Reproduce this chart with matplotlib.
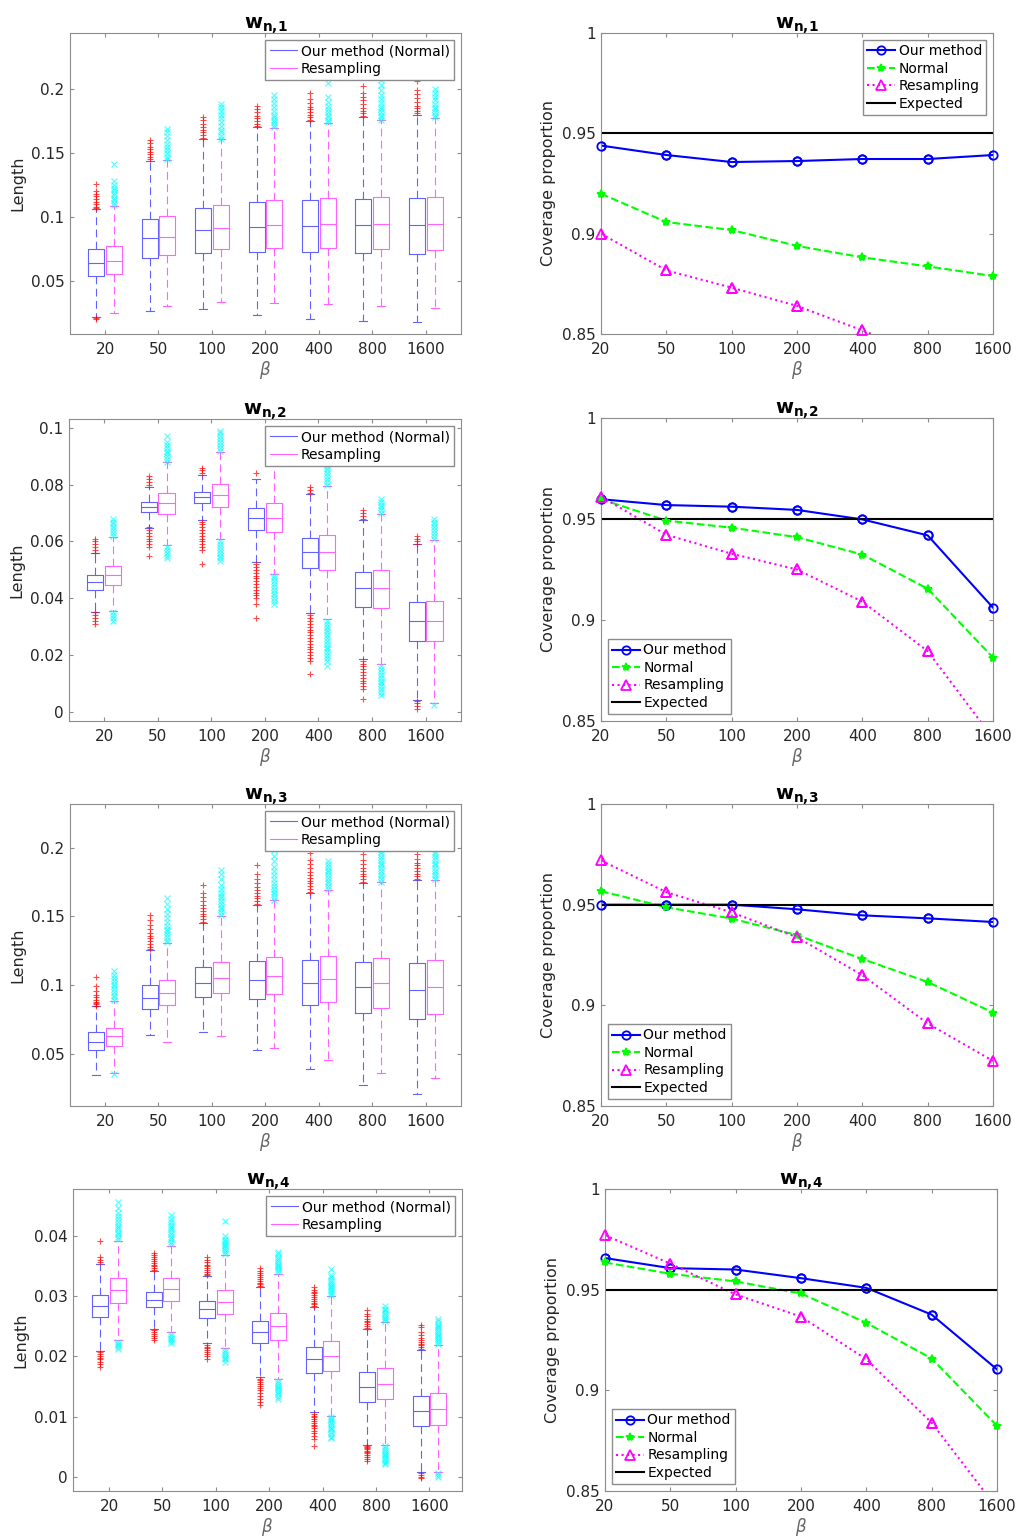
import matplotlib.pyplot as plt
from matplotlib.ticker import FuncFormatter
from matplotlib.lines import Line2D

# x categories
betas = ['20', '50', '100', '200', '400', '800', '1600']

# ---- box plot summaries (interval length) ----
# w_{n,1}
w1_ours_med = [0.0641, 0.0836, 0.0901, 0.0922, 0.0932, 0.0938, 0.0938]
w1_ours_q1 = [0.0537, 0.0680, 0.0719, 0.0727, 0.0727, 0.0719, 0.0711]
w1_ours_q3 = [0.0750, 0.0984, 0.1070, 0.1117, 0.1133, 0.1140, 0.1148]
w1_ours_lo = [0.0220, 0.0267, 0.0282, 0.0238, 0.0204, 0.0189, 0.0181]
w1_ours_hi = [0.1065, 0.1437, 0.1608, 0.1702, 0.1749, 0.1780, 0.1796]
w1_ours_out = [
    [0.107, 0.108, 0.110, 0.112, 0.114, 0.116, 0.118, 0.120, 0.126, 0.021, 0.020],
    [0.145, 0.147, 0.149, 0.151, 0.153, 0.155, 0.158, 0.160],
    [0.162, 0.164, 0.166, 0.168, 0.170, 0.173, 0.176, 0.178],
    [0.171, 0.173, 0.175, 0.177, 0.179, 0.182, 0.184, 0.187],
    [0.176, 0.178, 0.180, 0.182, 0.184, 0.186, 0.189, 0.192, 0.197],
    [0.179, 0.181, 0.183, 0.185, 0.188, 0.191, 0.194, 0.197, 0.202],
    [0.181, 0.183, 0.185, 0.187, 0.190, 0.193, 0.196, 0.199, 0.206]]
w1_res_med = [0.0657, 0.0844, 0.0914, 0.0938, 0.0945, 0.0945, 0.0945]
w1_res_q1 = [0.0558, 0.0701, 0.0750, 0.0758, 0.0758, 0.0750, 0.0743]
w1_res_q3 = [0.0771, 0.1005, 0.1094, 0.1133, 0.1148, 0.1156, 0.1156]
w1_res_lo = [0.0251, 0.0306, 0.0334, 0.0329, 0.0321, 0.0303, 0.0290]
w1_res_hi = [0.1083, 0.1445, 0.1608, 0.1692, 0.1733, 0.1759, 0.1772]
w1_res_out = [
    [0.109, 0.111, 0.113, 0.115, 0.117, 0.119, 0.121, 0.123, 0.125, 0.128, 0.141],
    [0.145, 0.147, 0.150, 0.152, 0.155, 0.157, 0.160, 0.163, 0.166, 0.169],
    [0.161, 0.163, 0.166, 0.168, 0.171, 0.174, 0.177, 0.180, 0.183, 0.186, 0.188],
    [0.170, 0.172, 0.174, 0.176, 0.178, 0.180, 0.183, 0.186, 0.189, 0.192, 0.195],
    [0.174, 0.176, 0.178, 0.180, 0.182, 0.184, 0.187, 0.190, 0.194, 0.205],
    [0.176, 0.178, 0.180, 0.182, 0.184, 0.186, 0.189, 0.192, 0.195, 0.199, 0.203, 0.207],
    [0.178, 0.180, 0.182, 0.184, 0.186, 0.188, 0.191, 0.194, 0.197, 0.200]]

# w_{n,2}
w2_ours_med = [0.0457, 0.0722, 0.0756, 0.0682, 0.0562, 0.0435, 0.0320]
w2_ours_q1 = [0.0428, 0.0703, 0.0735, 0.0642, 0.0505, 0.0368, 0.0248]
w2_ours_q3 = [0.0481, 0.0739, 0.0774, 0.0717, 0.0612, 0.0492, 0.0386]
w2_ours_lo = [0.0353, 0.0649, 0.0674, 0.0529, 0.0347, 0.0186, 0.0041]
w2_ours_hi = [0.0559, 0.0791, 0.0835, 0.0821, 0.0767, 0.0674, 0.0590]
w2_ours_out = [
    [0.056, 0.057, 0.058, 0.059, 0.060, 0.061, 0.035, 0.034, 0.033, 0.032, 0.031],
    [0.080, 0.081, 0.082, 0.083, 0.065, 0.064, 0.063, 0.062, 0.061, 0.060, 0.059, 0.058, 0.055],
    [0.084, 0.085, 0.086, 0.067, 0.066, 0.065, 0.064, 0.063, 0.062, 0.061, 0.060, 0.059,
     0.058, 0.057, 0.052],
    [0.084, 0.052, 0.051, 0.050, 0.049, 0.048, 0.047, 0.046, 0.045, 0.044, 0.043, 0.042,
     0.041, 0.040, 0.038, 0.033],
    [0.077, 0.078, 0.079, 0.034, 0.033, 0.032, 0.031, 0.030, 0.029, 0.028, 0.027, 0.026,
     0.025, 0.024, 0.023, 0.022, 0.021, 0.020, 0.019, 0.018, 0.0135],
    [0.068, 0.069, 0.070, 0.071, 0.018, 0.017, 0.016, 0.015, 0.014, 0.013, 0.012, 0.011,
     0.010, 0.009, 0.008, 0.0045],
    [0.059, 0.060, 0.061, 0.062, 0.004, 0.003, 0.002, 0.001]]
w2_res_med = [0.0482, 0.0734, 0.0762, 0.0684, 0.0562, 0.0435, 0.0320]
w2_res_q1 = [0.0448, 0.0697, 0.0723, 0.0632, 0.0501, 0.0365, 0.0248]
w2_res_q3 = [0.0514, 0.0770, 0.0801, 0.0734, 0.0621, 0.0499, 0.0389]
w2_res_lo = [0.0355, 0.0589, 0.0610, 0.0486, 0.0326, 0.0167, 0.0032]
w2_res_hi = [0.0614, 0.0878, 0.0914, 0.0885, 0.0794, 0.0697, 0.0606]
w2_res_out = [
    [0.062, 0.063, 0.064, 0.065, 0.066, 0.067, 0.068, 0.035, 0.034, 0.033, 0.032],
    [0.088, 0.089, 0.090, 0.091, 0.092, 0.093, 0.094, 0.095, 0.097, 0.058, 0.057, 0.056,
     0.055, 0.054],
    [0.092, 0.093, 0.094, 0.095, 0.096, 0.097, 0.098, 0.099, 0.060, 0.059, 0.058, 0.057,
     0.056, 0.055, 0.054, 0.053],
    [0.090, 0.092, 0.094, 0.096, 0.048, 0.047, 0.046, 0.045, 0.044, 0.043, 0.042, 0.041,
     0.040, 0.039, 0.038],
    [0.080, 0.081, 0.082, 0.083, 0.084, 0.085, 0.086, 0.087, 0.032, 0.031, 0.030, 0.029,
     0.028, 0.027, 0.026, 0.025, 0.024, 0.023, 0.022, 0.021, 0.020, 0.019, 0.018, 0.016],
    [0.070, 0.071, 0.072, 0.073, 0.074, 0.075, 0.016, 0.015, 0.014, 0.013, 0.012, 0.011,
     0.010, 0.009, 0.008, 0.007, 0.006],
    [0.061, 0.062, 0.063, 0.064, 0.065, 0.066, 0.067, 0.068, 0.0025]]

# w_{n,3}
w3_ours_med = [0.0589, 0.0905, 0.1012, 0.1034, 0.1012, 0.0983, 0.0961]
w3_ours_q1 = [0.0529, 0.0823, 0.0910, 0.0900, 0.0852, 0.0793, 0.0755]
w3_ours_q3 = [0.0655, 0.0998, 0.1129, 0.1173, 0.1180, 0.1170, 0.1163]
w3_ours_lo = [0.0349, 0.0636, 0.0657, 0.0526, 0.0388, 0.0276, 0.0210]
w3_ours_hi = [0.0847, 0.1253, 0.1454, 0.1583, 0.1671, 0.1739, 0.1765]
w3_ours_out = [
    [0.085, 0.086, 0.087, 0.088, 0.089, 0.091, 0.093, 0.096, 0.099, 0.106],
    [0.126, 0.128, 0.130, 0.132, 0.134, 0.136, 0.138, 0.141, 0.144, 0.147, 0.151],
    [0.146, 0.148, 0.150, 0.152, 0.154, 0.156, 0.158, 0.161, 0.164, 0.167, 0.173],
    [0.159, 0.161, 0.163, 0.165, 0.167, 0.169, 0.171, 0.174, 0.177, 0.181, 0.187],
    [0.168, 0.170, 0.172, 0.174, 0.176, 0.178, 0.180, 0.182, 0.185, 0.188, 0.191, 0.196],
    [0.175, 0.177, 0.179, 0.181, 0.183, 0.185, 0.188, 0.191, 0.195],
    [0.177, 0.179, 0.181, 0.183, 0.185, 0.187, 0.189, 0.192, 0.195]]
w3_res_med = [0.0626, 0.0939, 0.1051, 0.1063, 0.1044, 0.1012, 0.0983]
w3_res_q1 = [0.0560, 0.0852, 0.0939, 0.0932, 0.0878, 0.0830, 0.0789]
w3_res_q3 = [0.0691, 0.1034, 0.1165, 0.1204, 0.1209, 0.1194, 0.1180]
w3_res_lo = [0.0361, 0.0589, 0.0626, 0.0543, 0.0458, 0.0363, 0.0324]
w3_res_hi = [0.0886, 0.1304, 0.1505, 0.1615, 0.1695, 0.1748, 0.1765]
w3_res_out = [
    [0.089, 0.091, 0.093, 0.095, 0.097, 0.099, 0.101, 0.103, 0.105, 0.107, 0.110, 0.035],
    [0.131, 0.133, 0.135, 0.137, 0.139, 0.141, 0.143, 0.146, 0.149, 0.152, 0.155, 0.159, 0.163],
    [0.151, 0.153, 0.155, 0.157, 0.159, 0.161, 0.163, 0.165, 0.167, 0.170, 0.173, 0.177,
     0.181, 0.184],
    [0.162, 0.164, 0.166, 0.168, 0.170, 0.172, 0.174, 0.177, 0.180, 0.183, 0.186, 0.190,
     0.194, 0.198],
    [0.170, 0.172, 0.174, 0.176, 0.178, 0.180, 0.182, 0.184, 0.186, 0.188, 0.190],
    [0.175, 0.177, 0.179, 0.181, 0.183, 0.185, 0.187, 0.189, 0.191, 0.193, 0.195, 0.197, 0.199],
    [0.177, 0.179, 0.181, 0.183, 0.185, 0.187, 0.189, 0.191, 0.193, 0.195, 0.197]]

# w_{n,4}
w4_ours_med = [0.0283, 0.0293, 0.0278, 0.0241, 0.0195, 0.0150, 0.0109]
w4_ours_q1 = [0.0265, 0.0281, 0.0263, 0.0222, 0.0172, 0.0125, 0.0084]
w4_ours_q3 = [0.0301, 0.0306, 0.0291, 0.0259, 0.0216, 0.0174, 0.0135]
w4_ours_lo = [0.0209, 0.0245, 0.0222, 0.0166, 0.0107, 0.0053, 0.0008]
w4_ours_hi = [0.0353, 0.0341, 0.0333, 0.0314, 0.0281, 0.0245, 0.0211]
w4_ours_out = [
    [0.0356, 0.0360, 0.0364, 0.0391, 0.0207, 0.0204, 0.0201, 0.0198, 0.0195, 0.0191,
     0.0187, 0.0182],
    [0.0343, 0.0346, 0.0349, 0.0352, 0.0355, 0.0358, 0.0361, 0.0364, 0.0367, 0.0371,
     0.0243, 0.0240, 0.0237, 0.0234, 0.0231, 0.0227],
    [0.0334, 0.0337, 0.0340, 0.0343, 0.0346, 0.0349, 0.0352, 0.0356, 0.0360, 0.0364,
     0.0219, 0.0216, 0.0213, 0.0210, 0.0207, 0.0204, 0.0200, 0.0196],
    [0.0316, 0.0319, 0.0322, 0.0325, 0.0328, 0.0331, 0.0334, 0.0338, 0.0342, 0.0347,
     0.0163, 0.0160, 0.0157, 0.0154, 0.0151, 0.0148, 0.0144, 0.0140, 0.0135, 0.0130,
     0.0125, 0.0119],
    [0.0283, 0.0286, 0.0289, 0.0292, 0.0295, 0.0298, 0.0301, 0.0304, 0.0307, 0.0310,
     0.0314, 0.0105, 0.0102, 0.0099, 0.0096, 0.0093, 0.0090, 0.0087, 0.0084, 0.0081,
     0.0077, 0.0073, 0.0068, 0.0063, 0.0051],
    [0.0247, 0.0250, 0.0253, 0.0256, 0.0259, 0.0262, 0.0266, 0.0270, 0.0276, 0.0052,
     0.0050, 0.0048, 0.0046, 0.0044, 0.0042, 0.0040, 0.0037, 0.0034, 0.0030, 0.0027],
    [0.0212, 0.0215, 0.0218, 0.0221, 0.0224, 0.0227, 0.0231, 0.0236, 0.0241, 0.0248,
     0.0252, 0.0006, 0.0003, 0.0000, -0.0002]]
w4_res_med = [0.0309, 0.0311, 0.0290, 0.0250, 0.0201, 0.0154, 0.0113]
w4_res_q1 = [0.0289, 0.0292, 0.0270, 0.0227, 0.0176, 0.0129, 0.0087]
w4_res_q3 = [0.0329, 0.0329, 0.0309, 0.0271, 0.0226, 0.0180, 0.0140]
w4_res_lo = [0.0227, 0.0240, 0.0213, 0.0162, 0.0102, 0.0053, 0.0008]
w4_res_hi = [0.0391, 0.0383, 0.0367, 0.0337, 0.0300, 0.0256, 0.0219]
w4_res_out = [
    [0.0394, 0.0398, 0.0402, 0.0406, 0.0410, 0.0414, 0.0418, 0.0422, 0.0427, 0.0432,
     0.0438, 0.0445, 0.0456, 0.0224, 0.0221, 0.0218, 0.0215, 0.0212],
    [0.0386, 0.0390, 0.0394, 0.0398, 0.0402, 0.0406, 0.0410, 0.0414, 0.0418, 0.0423,
     0.0428, 0.0434, 0.0237, 0.0234, 0.0231, 0.0228, 0.0225, 0.0222],
    [0.0370, 0.0373, 0.0376, 0.0379, 0.0382, 0.0385, 0.0388, 0.0391, 0.0395, 0.0400,
     0.0424, 0.0210, 0.0207, 0.0204, 0.0201, 0.0198, 0.0195, 0.0191],
    [0.0340, 0.0343, 0.0346, 0.0349, 0.0352, 0.0355, 0.0358, 0.0361, 0.0365, 0.0369,
     0.0373, 0.0159, 0.0156, 0.0153, 0.0150, 0.0147, 0.0144, 0.0141, 0.0137, 0.0133,
     0.0129],
    [0.0302, 0.0305, 0.0308, 0.0311, 0.0314, 0.0317, 0.0320, 0.0323, 0.0327, 0.0331,
     0.0335, 0.0344, 0.0100, 0.0097, 0.0094, 0.0091, 0.0088, 0.0085, 0.0082, 0.0079,
     0.0075, 0.0071, 0.0067, 0.0064],
    [0.0258, 0.0261, 0.0264, 0.0267, 0.0270, 0.0273, 0.0276, 0.0279, 0.0283, 0.0051,
     0.0048, 0.0045, 0.0042, 0.0039, 0.0036, 0.0033, 0.0030, 0.0027, 0.0024, 0.0021],
    [0.0221, 0.0224, 0.0227, 0.0230, 0.0233, 0.0236, 0.0239, 0.0242, 0.0245, 0.0248,
     0.0251, 0.0254, 0.0258, 0.0261, 0.0006, 0.0003, 0.0001]]

# ---- coverage proportions ----
cov1_ours = [0.9439, 0.9392, 0.9357, 0.9362, 0.9372, 0.9372, 0.9392]
cov1_normal = [0.9199, 0.9058, 0.9018, 0.8939, 0.8882, 0.8837, 0.8789]
cov1_resamp = [0.9000, 0.8817, 0.8731, 0.8640, 0.8518, 0.8390, 0.8260]
cov2_ours = [0.9598, 0.9569, 0.9561, 0.9545, 0.9498, 0.9419, 0.9061]
cov2_normal = [0.9598, 0.9492, 0.9457, 0.9410, 0.9324, 0.9155, 0.8814]
cov2_resamp = [0.9611, 0.9422, 0.9328, 0.9250, 0.9091, 0.8846, 0.8415]
cov3_ours = [0.9500, 0.9500, 0.9500, 0.9477, 0.9447, 0.9432, 0.9414]
cov3_normal = [0.9567, 0.9487, 0.9431, 0.9349, 0.9230, 0.9116, 0.8964]
cov3_resamp = [0.9720, 0.9562, 0.9462, 0.9338, 0.9150, 0.8910, 0.8724]
cov4_ours = [0.9657, 0.9607, 0.9600, 0.9557, 0.9509, 0.9376, 0.9104]
cov4_normal = [0.9635, 0.9579, 0.9541, 0.9481, 0.9335, 0.9158, 0.8824]
cov4_resamp = [0.9771, 0.9629, 0.9476, 0.9366, 0.9154, 0.8839, 0.8415]
expected = 0.95

# ---- styling ----
W, H = 1019, 1539
BOX_BLUE = '#6262ff'
BOX_MAG = '#ff62ff'
FRAME = '#8c8c8c'
TXT = '#262626'
fmt = FuncFormatter(lambda v, p: '%g' % v)

fig = plt.figure(figsize=(W / 100, H / 100), dpi=100)


def add_ax(x0, y0, x1, y1):
    return fig.add_axes([x0 / W, 1 - y1 / H, (x1 - x0) / W, (y1 - y0) / H])


def style(ax, title):
    for s in ax.spines.values():
        s.set_color(FRAME)
        s.set_linewidth(0.8)
    ax.tick_params(direction='in', top=True, right=True, length=3, width=0.8,
                   color=FRAME, labelcolor=TXT, labelsize=11)
    ax.tick_params(axis='x', pad=6)
    ax.tick_params(axis='y', pad=4)
    ax.yaxis.set_major_formatter(fmt)
    ax.set_title(title, fontsize=14, color='black', pad=3)
    ax.set_xlabel(r'$\beta$', fontsize=12, color='#666666', labelpad=1)


def stats(med, q1, q3, lo, hi, out):
    return [dict(med=m, q1=a, q3=b, whislo=l, whishi=h, fliers=f)
            for m, a, b, l, h, f in zip(med, q1, q3, lo, hi, out)]


def boxes(ax, st, offset, color, sym, fcolor):
    pos = [i + 1 + offset for i in range(len(st))]
    ax.bxp(st, positions=pos, widths=0.3, capwidths=0.15,
           boxprops=dict(color=color, lw=0.8),
           whiskerprops=dict(color=color, lw=0.8, linestyle=(0, (7, 4))),
           capprops=dict(color=color, lw=0.8),
           medianprops=dict(color=color, lw=0.8),
           flierprops=dict(marker=sym, markeredgecolor=fcolor, markersize=5,
                           mew=0.8, linestyle='none', alpha=0.7))


def box_panel(rect, xlim, ours, res, ylim, yticks, title):
    ax = add_ax(*rect)
    boxes(ax, ours, -0.165, BOX_BLUE, '+', 'red')
    boxes(ax, res, 0.165, BOX_MAG, 'x', 'cyan')
    ax.set_xlim(*xlim)
    ax.set_ylim(*ylim)
    ax.set_yticks(yticks)
    ax.set_xticks(range(1, 8))
    ax.set_xticklabels(betas)
    style(ax, title)
    ax.set_ylabel('Length', fontsize=11.5, color=TXT)
    handles = [Line2D([], [], color=BOX_BLUE, lw=0.8), Line2D([], [], color=BOX_MAG, lw=0.8)]
    ax.legend(handles, ['Our method (Normal)', 'Resampling'], loc='upper right',
              fontsize=10, frameon=True, fancybox=False, framealpha=1,
              edgecolor=FRAME, borderpad=0.3, labelspacing=0.25,
              handlelength=2.0, handletextpad=0.25, borderaxespad=0.5)


def cov_panel(rect, ours, normal, resamp, title, loc):
    ax = add_ax(*rect)
    x = list(range(1, 8))
    specs = [(ours, 'o', '-', 'blue', 'none', 6, 'Our method'),
             (normal, '*', '--', '#00ff00', '#00ff00', 6, 'Normal'),
             (resamp, '^', ':', 'magenta', 'none', 6.5, 'Resampling')]
    for vals, mk, ls, c, mfc, ms, lab in specs:
        ax.plot(x, vals, marker=mk, linestyle=ls, color=c, mfc=mfc, ms=ms,
                mew=1.3, lw=1.5, label=lab)
        keep = [i for i, v in enumerate(vals) if v >= 0.85]
        ax.plot([x[i] for i in keep], [vals[i] for i in keep], marker=mk,
                linestyle='none', color=c, mfc=mfc, ms=ms, mew=1.3, clip_on=False,
                zorder=4)
    ax.axhline(expected, color='black', lw=1.5, label='Expected')
    ax.set_xlim(1, 7)
    ax.set_ylim(0.85, 1)
    ax.set_yticks([0.85, 0.9, 0.95, 1])
    ax.set_xticks(x)
    ax.set_xticklabels(betas)
    style(ax, title)
    ax.set_ylabel('Coverage proportion', fontsize=11.5, color=TXT)
    ax.legend(loc=loc, fontsize=10, frameon=True, fancybox=False, framealpha=1,
              edgecolor=FRAME, borderpad=0.3, labelspacing=0.25,
              handlelength=2.0, handletextpad=0.25, borderaxespad=0.5)


titles = [r'$\mathbf{w}_{\mathbf{n{,}%d}}$' % k for k in range(1, 5)]

box_panel((70, 33, 461, 334), (0.345, 7.66),
          stats(w1_ours_med, w1_ours_q1, w1_ours_q3, w1_ours_lo, w1_ours_hi, w1_ours_out),
          stats(w1_res_med, w1_res_q1, w1_res_q3, w1_res_lo, w1_res_hi, w1_res_out),
          (0.0086, 0.2437), [0.05, 0.1, 0.15, 0.2], titles[0])
box_panel((69, 419, 461, 721), (0.345, 7.66),
          stats(w2_ours_med, w2_ours_q1, w2_ours_q3, w2_ours_lo, w2_ours_hi, w2_ours_out),
          stats(w2_res_med, w2_res_q1, w2_res_q3, w2_res_lo, w2_res_hi, w2_res_out),
          (-0.0032, 0.1031), [0, 0.02, 0.04, 0.06, 0.08, 0.1], titles[1])
box_panel((70, 804, 461, 1106), (0.345, 7.66),
          stats(w3_ours_med, w3_ours_q1, w3_ours_q3, w3_ours_lo, w3_ours_hi, w3_ours_out),
          stats(w3_res_med, w3_res_q1, w3_res_q3, w3_res_lo, w3_res_hi, w3_res_out),
          (0.012, 0.2317), [0.05, 0.1, 0.15, 0.2], titles[2])
box_panel((73, 1189, 462, 1491), (0.325, 7.61),
          stats(w4_ours_med, w4_ours_q1, w4_ours_q3, w4_ours_lo, w4_ours_hi, w4_ours_out),
          stats(w4_res_med, w4_res_q1, w4_res_q3, w4_res_lo, w4_res_hi, w4_res_out),
          (-0.0023, 0.0477), [0, 0.01, 0.02, 0.03, 0.04], titles[3])

cov_panel((601, 33, 993, 334), cov1_ours, cov1_normal, cov1_resamp, titles[0], 'upper right')
cov_panel((601, 418, 993, 721), cov2_ours, cov2_normal, cov2_resamp, titles[1], 'lower left')
cov_panel((601, 804, 993, 1106), cov3_ours, cov3_normal, cov3_resamp, titles[2], 'lower left')
cov_panel((605, 1189, 997, 1491), cov4_ours, cov4_normal, cov4_resamp, titles[3], 'lower left')

fig.savefig('out.png', dpi=100)
